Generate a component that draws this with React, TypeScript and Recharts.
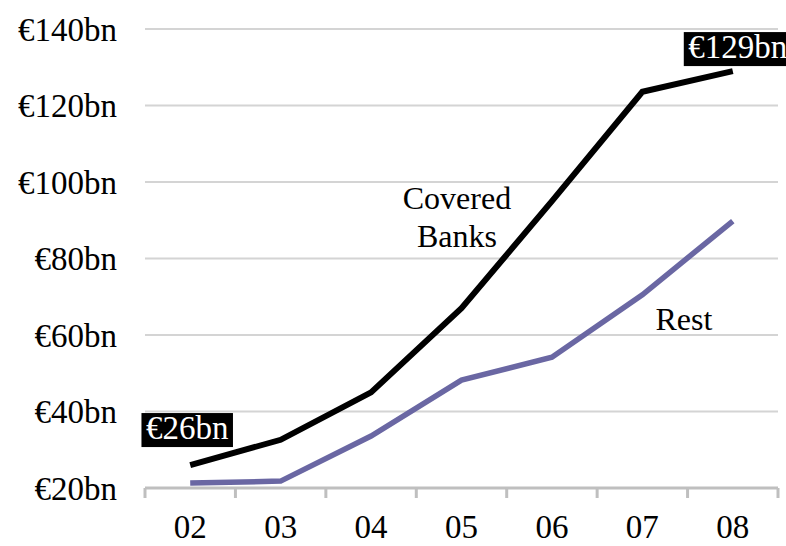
import React from "react"
import { LineChart, Line, XAxis, YAxis, CartesianGrid, LabelList, ReferenceDot } from "recharts"

const years = ["02", "03", "04", "05", "06", "07", "08"]
const covered = [26, 32.6, 45, 67, 95, 123.6, 129]
const rest = [21.3, 21.8, 33.6, 48.2, 54.2, 70.5, 89.8]
const yTicks = [20, 40, 60, 80, 100, 120, 140]
const xTicks = [-0.5, 0, 0.5, 1, 1.5, 2, 2.5, 3, 3.5, 4, 4.5, 5, 5.5, 6, 6.5]

const data = years.map((y, i) => ({ i, year: y, covered: covered[i], rest: rest[i] }))

const FONT = "'Liberation Serif', 'DejaVu Serif', serif"

function XTick(props: any) {
  const { x, y, payload } = props
  const v = payload.value as number
  if (!Number.isInteger(v)) {
    return <line x1={x} x2={x} y1={y} y2={y + 10} stroke="#bfbfbf" strokeWidth={3} />
  }
  return (
    <text x={x} y={y + 50} textAnchor="middle" fontSize={33} fontFamily={FONT} fill="#000">
      {years[v]}
    </text>
  )
}

function EndLabel(props: any) {
  const { x, y, index, value } = props
  if (index !== 0 && index !== years.length - 1) return null
  const gap = index === 0 ? 18 : 5
  const text = `€${Math.round(value)}bn`
  const w = text.length * 16.5 + 9
  const h = 34
  const cx = index === 0 ? x - 3 : x + 5
  return (
    <g>
      <rect x={cx - w / 2} y={y - gap - h} width={w} height={h} fill="#000" />
      <text x={cx} y={y - gap - 8} textAnchor="middle" fontSize={33} fontFamily={FONT} fill="#fff">
        {text}
      </text>
    </g>
  )
}

const note = (txt: string) => (p: any) => {
  const vb = p.viewBox
  return (
    <text x={vb.x + vb.width / 2} y={vb.y + vb.height / 2} textAnchor="middle" fontSize={32} fontFamily={FONT} fill="#000">
      {txt}
    </text>
  )
}

export default function App() {
  return (
    <div style={{ position: "absolute", left: 0, top: 0, background: "#fff" }}>
      <LineChart width={786} height={546} data={data} margin={{ top: 29, right: 8, bottom: 0, left: 0 }}>
        <CartesianGrid vertical={false} stroke="#d4d4d4" strokeWidth={2} />
        <XAxis
          dataKey="i"
          type="number"
          domain={[-0.5, 6.5]}
          ticks={xTicks}
          interval={0}
          height={58}
          tickSize={0}
          tickMargin={0}
          tickLine={false}
          axisLine={{ stroke: "#bfbfbf", strokeWidth: 3 }}
          tick={<XTick />}
        />
        <YAxis
          domain={[20, 140]}
          ticks={yTicks}
          width={145}
          axisLine={false}
          tickLine={false}
          tickMargin={22}
          tickFormatter={(v) => `€${v}bn`}
          tick={{ fill: "#000", fontSize: 33, fontFamily: FONT }}
        />
        <Line type="linear" dataKey="rest" stroke="#6a67a3" strokeWidth={5.5} dot={false} isAnimationActive={false} />
        <Line type="linear" dataKey="covered" stroke="#000" strokeWidth={6} dot={false} isAnimationActive={false}>
          <LabelList dataKey="covered" content={<EndLabel />} />
        </Line>
        <ReferenceDot x={2.95} y={92.9} r={1} fill="none" stroke="none" label={note("Covered")} />
        <ReferenceDot x={2.95} y={83} r={1} fill="none" stroke="none" label={note("Banks")} />
        <ReferenceDot x={5.46} y={61.3} r={1} fill="none" stroke="none" label={note("Rest")} />
      </LineChart>
    </div>
  )
}
